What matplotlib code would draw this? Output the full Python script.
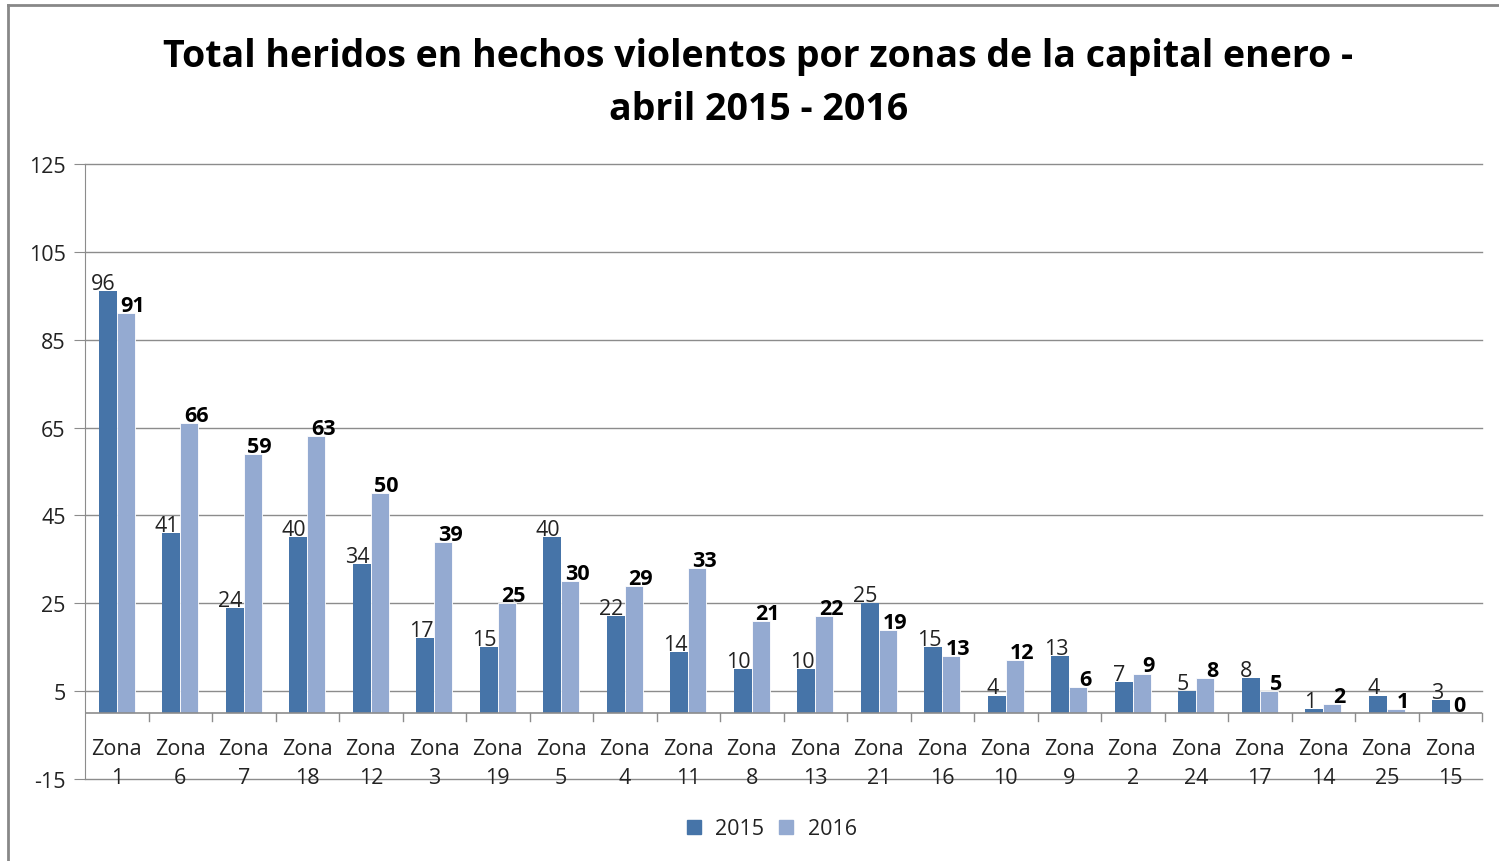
import numpy as np
import matplotlib
matplotlib.use('Agg')
import matplotlib.pyplot as plt
from matplotlib.lines import Line2D

plt.rcParams['font.family'] = ['Open Sans', 'DejaVu Sans']
plt.rcParams['axes.unicode_minus'] = False

zonas = ['1', '6', '7', '18', '12', '3', '19', '5', '4', '11', '8',
         '13', '21', '16', '10', '9', '2', '24', '17', '14', '25', '15']
v2015 = [96, 41, 24, 40, 34, 17, 15, 40, 22, 14, 10, 10, 25, 15, 4, 13, 7, 5, 8, 1, 4, 3]
v2016 = [91, 66, 59, 63, 50, 39, 25, 30, 29, 33, 21, 22, 19, 13, 12, 6, 9, 8, 5, 2, 1, 0]
yticks = [-15, 5, 25, 45, 65, 85, 105, 125]

c15 = '#4674A8'
c16 = '#94AAD1'
grid = '#8c8c8c'
fs = 15.5

fig = plt.figure(figsize=(14.99, 8.62), dpi=100)
ax = fig.add_axes([85/1499, 82/862, (1482-85)/1499, 615/862])

x = np.arange(len(zonas))
w = 0.285
ax.bar(x - w/2, v2015, w, color=c15, zorder=3)
ax.bar(x + w/2, v2016, w, color=c16, edgecolor='white', linewidth=0.6, zorder=3)

ax.set_xlim(-0.5, len(zonas) - 0.5)
ax.set_ylim(-15, 125)
ax.set_yticks(yticks)
ax.tick_params(axis='y', length=8, color=grid, labelsize=fs, pad=6, labelcolor='#222222')
ax.set_xticks([])
for t in yticks:
    ax.axhline(t, color=grid, lw=1, zorder=1, clip_on=False)

for s in ['top', 'right', 'bottom']:
    ax.spines[s].set_visible(False)
ax.spines['left'].set_color(grid)

# horizontal axis at zero with category boundary ticks
ax.axhline(0, color=grid, lw=1.2, zorder=4)
for b in np.arange(0.5, len(zonas) - 0.4, 1):
    ax.plot([b, b], [0, -1.9], color=grid, lw=1, zorder=4, clip_on=False)

for i, z in enumerate(zonas):
    ax.text(i, -9.4, 'Zona', ha='center', va='baseline', fontsize=fs,
            color='#222222', zorder=2, clip_on=False)
    ax.text(i, -15.8, z, ha='center', va='baseline', fontsize=fs,
            color='#222222', zorder=2, clip_on=False)

for i in range(len(zonas)):
    ax.annotate(str(v2015[i]), (x[i] - w/2, v2015[i]), xytext=(-3, 1.5),
                textcoords='offset points', ha='center', va='baseline',
                fontsize=fs, color='#222222', zorder=5)
    dx = 5 if v2016[i] > 0 else 0
    ax.annotate(str(v2016[i]), (x[i] + w/2, v2016[i]), xytext=(dx, 1.5),
                textcoords='offset points', ha='center', va='baseline',
                fontsize=fs, fontweight='bold', color='black', zorder=5)

fig.text(0.506, 1 - 67/862, 'Total heridos en hechos violentos por zonas de la capital enero -',
         ha='center', va='baseline', fontsize=27, fontweight='bold')
fig.text(0.506, 1 - 120/862, 'abril 2015 - 2016',
         ha='center', va='baseline', fontsize=27, fontweight='bold')

handles = [Line2D([], [], marker='s', ls='', color=c15, markersize=10),
           Line2D([], [], marker='s', ls='', color=c16, markersize=10)]
fig.legend(handles, ['2015', '2016'], loc='center', bbox_to_anchor=(0.51, 1 - 830/862),
           ncol=2, frameon=False, fontsize=fs, handletextpad=0.0, columnspacing=0.0,
           labelcolor='#222222')

# outer frame (top and left edges)
fig.add_artist(Line2D([8/1499, 8/1499], [0, 1 - 6/862], color='#888888', lw=2))
fig.add_artist(Line2D([8/1499, 1], [1 - 6/862, 1 - 6/862], color='#888888', lw=2))

fig.savefig('out.png', dpi=100)
